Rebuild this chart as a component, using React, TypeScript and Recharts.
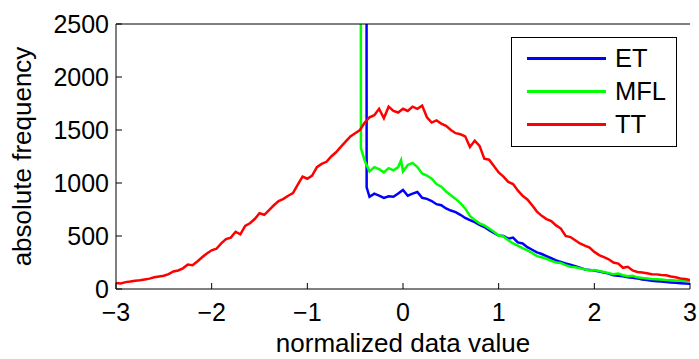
import React from "react";
import { LineChart, Line, XAxis, YAxis, Legend } from "recharts";

// histogram bins for TT: -3 .. 3 step 0.05
const TT_START = -3;
const TT_STEP = 0.05;
const ttCounts = [
  57, 52, 65, 70, 78, 82, 90, 98, 110, 118, 125, 140, 165, 175, 195, 230, 225, 260, 300, 335,
  365, 380, 430, 470, 485, 540, 515, 595, 620, 660, 715, 700, 745, 790, 830, 850, 880, 905, 985, 1060,
  1040, 1070, 1150, 1180, 1200, 1250, 1290, 1340, 1390, 1440, 1470, 1500, 1570, 1620, 1640, 1700, 1610, 1720, 1680, 1665,
  1700, 1680, 1720, 1700, 1730, 1620, 1570, 1590, 1560, 1540, 1500, 1470, 1460, 1440, 1340, 1400, 1350, 1230, 1220, 1160,
  1100, 1060, 1010, 990, 930, 880, 845, 790, 730, 690, 660, 640, 600, 570, 500, 490, 460, 430, 410, 390,
  350, 320, 300, 280, 250, 240, 200, 210, 175, 160, 155, 148, 140, 138, 132, 130, 118, 110, 100, 95, 85,
];

const mflX = [
  -0.45, -0.44, -0.4, -0.35, -0.3, -0.25, -0.2, -0.15, -0.1, -0.05, -0.02, 0, 0.05, 0.1, 0.15, 0.2, 0.25, 0.3, 0.35, 0.4,
  0.45, 0.5, 0.55, 0.6, 0.65, 0.7, 0.75, 0.8, 0.85, 0.9, 0.95, 1, 1.05, 1.1, 1.15, 1.2, 1.25, 1.3, 1.35, 1.4,
  1.45, 1.5, 1.55, 1.6, 1.65, 1.7, 1.75, 1.8, 1.85, 1.9, 1.95, 2, 2.05, 2.1, 2.15, 2.2, 2.25, 2.3, 2.35, 2.4,
  2.45, 2.5, 2.55, 2.6, 2.65, 2.7, 2.75, 2.8, 2.85, 2.9, 2.95, 3,
];
const mflCounts = [
  20000, 1330, 1210, 1110, 1150, 1130, 1100, 1140, 1120, 1150, 1215, 1110, 1170, 1190, 1150, 1090, 1070, 1040, 990, 965,
  920, 885, 850, 810, 760, 690, 650, 620, 600, 570, 540, 505, 495, 460, 430, 410, 385, 365, 340, 310,
  300, 285, 265, 250, 245, 225, 210, 205, 195, 185, 175, 180, 170, 160, 150, 140, 145, 130, 120, 125,
  110, 105, 100, 95, 92, 90, 85, 82, 80, 78, 76, 72,
];

const etX = [
  -0.39, -0.38, -0.35, -0.3, -0.25, -0.2, -0.15, -0.1, -0.05, 0, 0.05, 0.1, 0.15, 0.2, 0.25, 0.3, 0.35, 0.4, 0.45, 0.5,
  0.55, 0.6, 0.65, 0.7, 0.75, 0.8, 0.85, 0.9, 0.95, 1, 1.05, 1.1, 1.15, 1.2, 1.25, 1.3, 1.35, 1.4, 1.45, 1.5,
  1.55, 1.6, 1.65, 1.7, 1.75, 1.8, 1.85, 1.9, 1.95, 2, 2.05, 2.1, 2.15, 2.2, 2.25, 2.3, 2.35, 2.4, 2.45, 2.5,
  2.55, 2.6, 2.65, 2.7, 2.75, 2.8, 2.85, 2.9, 2.95, 3,
];
const etCounts = [
  20000, 960, 870, 900, 880, 860, 875, 870, 900, 935, 880, 900, 915, 860, 850, 830, 800, 790, 760, 740,
  725, 700, 670, 650, 630, 605, 585, 555, 530, 505, 500, 475, 485, 440, 430, 395, 370, 345, 330, 310,
  290, 270, 255, 240, 230, 215, 200, 185, 180, 175, 165, 155, 145, 130, 125, 120, 110, 105, 100, 90,
  85, 78, 72, 70, 65, 62, 58, 55, 52, 50,
];

const xTicks = [-3, -2, -1, 0, 1, 2, 3];
const yTicks = [0, 500, 1000, 1500, 2000, 2500];

const ttData = ttCounts.map((c, i) => ({ x: +(TT_START + i * TT_STEP).toFixed(2), y: c }));
const mflData = mflX.map((x, i) => ({ x, y: mflCounts[i] }));
const etData = etX.map((x, i) => ({ x, y: etCounts[i] }));

const FONT = "'Liberation Sans', Arial, Helvetica, sans-serif";
const FS = 25;
const LABEL_FS = 26;
const fmt = (v: number) => (v < 0 ? "\u2212" + Math.abs(v) : String(v));

const BottomTick = ({ x, y, payload }: any) => (
  <g>
    <line x1={x} y1={y} x2={x} y2={y - 6} stroke="#000" strokeWidth={1} />
    <text x={x} y={y + 32} textAnchor="middle" fontSize={FS} fontFamily={FONT} fill="#000">{fmt(payload.value)}</text>
  </g>
);
const TopTick = ({ x, y }: any) => <line x1={x} y1={y} x2={x} y2={y + 6} stroke="#000" strokeWidth={1} />;
const LeftTick = ({ x, y, payload }: any) => (
  <g>
    <line x1={x} y1={y} x2={x + 6} y2={y} stroke="#000" strokeWidth={1} />
    <text x={x - 7} y={y + 9} textAnchor="end" fontSize={FS} fontFamily={FONT} fill="#000">{payload.value}</text>
  </g>
);
const RightTick = ({ x, y }: any) => <line x1={x} y1={y} x2={x - 6} y2={y} stroke="#000" strokeWidth={1} />;

const LegendBox = ({ payload }: any) => (
  <div style={{ width: 164, height: 104, border: "1.5px solid #000", background: "#fff", paddingTop: 4, boxSizing: "content-box" }}>
    {(payload || []).map((p: any) => (
      <div key={p.value} style={{ display: "flex", alignItems: "center", height: 33 }}>
        <span style={{ display: "inline-block", width: 79, height: 2.5, background: p.color, marginLeft: 15, marginRight: 9 }} />
        <span style={{ fontSize: 25.5, fontFamily: FONT, color: "#000", lineHeight: "33px" }}>{p.value}</span>
      </div>
    ))}
  </div>
);

export default function App() {
  return (
    <div style={{ position: "absolute", left: 0, top: 0, background: "#fff" }}>
      <LineChart width={699} height={359} margin={{ top: 0, right: 9, bottom: 0, left: 0 }}>
        <XAxis xAxisId="b" dataKey="x" type="number" domain={[-3, 3]} ticks={xTicks} interval={0}
          allowDataOverflow orientation="bottom" height={70} tickSize={0} tickMargin={0}
          axisLine={{ stroke: "#000" }} tickLine={false} tick={<BottomTick />}
          label={{ value: "normalized data value", position: "insideBottom", offset: 7, fontSize: LABEL_FS, fontFamily: FONT, fill: "#000" }} />
        <XAxis xAxisId="t" dataKey="x" type="number" domain={[-3, 3]} ticks={xTicks} interval={0}
          orientation="top" height={24} tickSize={0} tickMargin={0}
          axisLine={{ stroke: "#000" }} tickLine={false} tick={<TopTick />} />
        <YAxis yAxisId="l" type="number" domain={[0, 2500]} ticks={yTicks} interval={0} allowDataOverflow
          width={116} tickSize={0} tickMargin={0} axisLine={{ stroke: "#000" }} tickLine={false} tick={<LeftTick />}
          label={{ value: "absolute frequency", angle: -90, position: "insideLeft", offset: 22, fontSize: LABEL_FS, fontFamily: FONT, fill: "#000", style: { textAnchor: "middle" } }} />
        <YAxis yAxisId="r" orientation="right" type="number" domain={[0, 2500]} ticks={yTicks} interval={0}
          width={0} tickSize={0} tickMargin={0} axisLine={{ stroke: "#000" }} tickLine={false} tick={<RightTick />} />
        <Legend layout="horizontal" verticalAlign="middle" align="center" content={<LegendBox />}
          wrapperStyle={{ position: "absolute", top: 37, left: 511, width: 167, height: 107 }} />
        <Line xAxisId="b" yAxisId="l" data={etData} dataKey="y" name="ET" stroke="#0000ff" strokeWidth={2.5} dot={false} isAnimationActive={false} />
        <Line xAxisId="b" yAxisId="l" data={mflData} dataKey="y" name="MFL" stroke="#00ff00" strokeWidth={2.5} dot={false} isAnimationActive={false} />
        <Line xAxisId="b" yAxisId="l" data={ttData} dataKey="y" name="TT" stroke="#ff0000" strokeWidth={2.5} dot={false} isAnimationActive={false} />
      </LineChart>
    </div>
  );
}
